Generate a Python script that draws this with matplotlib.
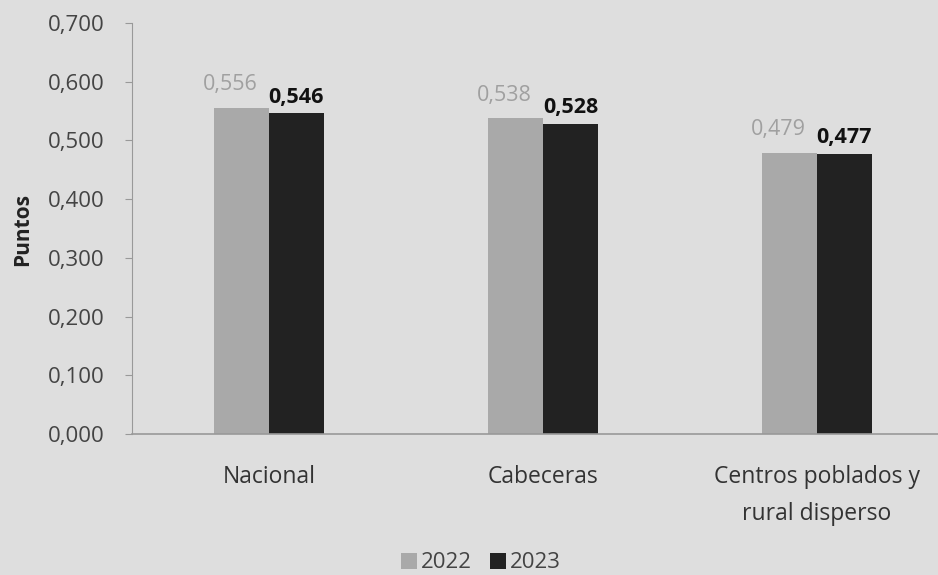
import matplotlib
matplotlib.use("Agg")
import matplotlib.pyplot as plt
import numpy as np
from matplotlib.ticker import FuncFormatter

categories = ["Nacional", "Cabeceras", "Centros poblados y\nrural disperso"]
values_2022 = [0.556, 0.538, 0.479]
values_2023 = [0.546, 0.528, 0.477]
series_names = ["2022", "2023"]
yticks = [0.0, 0.1, 0.2, 0.3, 0.4, 0.5, 0.6, 0.7]

plt.rcParams['font.family'] = ['Open Sans', 'DejaVu Sans']

bg = "#dedede"
c22 = "#a9a9a9"
c23 = "#222222"

fig = plt.figure(figsize=(9.38, 5.75), dpi=100, facecolor=bg)
ax = fig.add_axes([132/938, 1-434/575, (954-132)/938, (434-23)/575])
ax.set_facecolor(bg)

x = np.arange(len(categories))
w = 0.2
b1 = ax.bar(x - w/2, values_2022, w, color=c22, label=series_names[0])
b2 = ax.bar(x + w/2, values_2023, w, color=c23, label=series_names[1])

fmt = lambda v: f"{v:.3f}".replace(".", ",")
for xi, v in zip(x - w/2, values_2022):
    ax.annotate(fmt(v), (xi, v), xytext=(-8, 9), textcoords="offset points",
                ha="center", va="bottom", fontsize=15.5, color="#a0a0a0")
for xi, v in zip(x + w/2, values_2023):
    ax.annotate(fmt(v), (xi, v), xytext=(0, 4), textcoords="offset points",
                ha="center", va="bottom", fontsize=15.5, color="#111111", fontweight="bold")

ax.set_xlim(-0.5, 2.5)
ax.set_ylim(0, 0.7)
ax.set_yticks(yticks)
ax.yaxis.set_major_formatter(FuncFormatter(lambda v, p: fmt(v)))
ax.set_xticks(x)
ax.set_xticklabels(categories, fontsize=16.5, color="#333333", linespacing=1.75)
ax.tick_params(axis="x", length=0, pad=22)
ax.tick_params(axis="y", length=5, color="#999999", labelsize=16, labelcolor="#444444", pad=15)

for s in ["top", "right"]:
    ax.spines[s].set_visible(False)
ax.spines["left"].set_color("#999999")
ax.spines["bottom"].set_color("#999999")
ax.spines["bottom"].set_linewidth(1.2)

ax.set_ylabel("Puntos", fontsize=15, fontweight="bold", color="#222222", labelpad=0)
ax.yaxis.set_label_coords(33/938, 1-229/575, transform=fig.transFigure)

fig.legend(handles=[b1, b2], labels=series_names, loc="center", bbox_to_anchor=(481/938, 1-563/575),
           ncol=2, frameon=False, fontsize=16, handlelength=0.7, handleheight=0.7,
           handletextpad=0.2, columnspacing=0.8, labelcolor="#444444")

fig.savefig("out.png", dpi=100, facecolor=bg)
